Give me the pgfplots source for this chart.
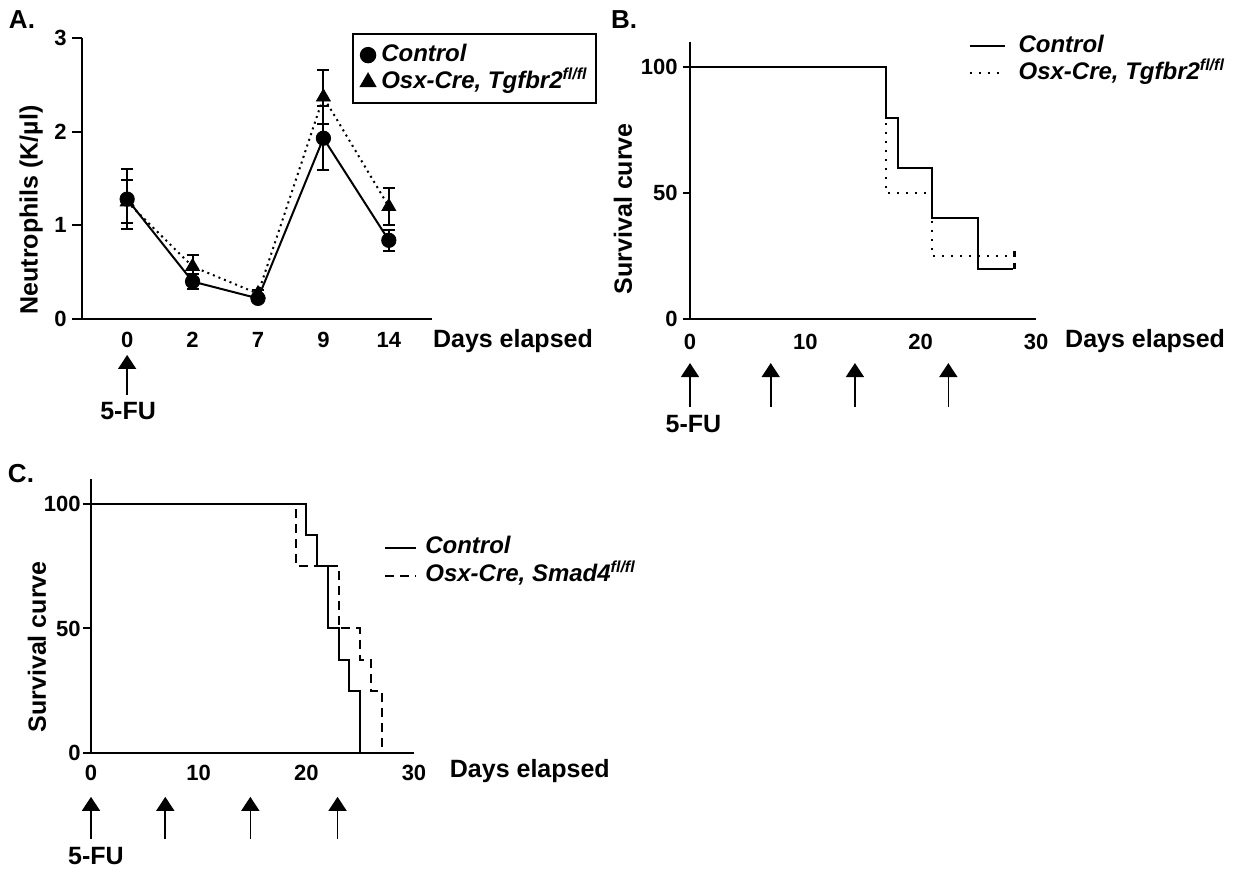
\documentclass[border=0pt]{standalone}
\usepackage{fontspec}
\setmainfont{Liberation Sans}
\usepackage{pgfplots}
\pgfplotsset{compat=1.18}
\usetikzlibrary{arrows.meta}

\newcommand\lblfont{\fontsize{12.5}{14}\selectfont\bfseries}
\newcommand\tickfont{\fontsize{11}{13}\selectfont\bfseries}
\newcommand\legfont{\fontsize{12}{14}\selectfont\bfseries\itshape}

\tikzset{fu/.style={line width=0.8pt, -{Triangle[width=9pt,length=7pt]}}}

\pgfplotsset{
  panel/.style={
    scale only axis, clip=false,
    axis x line=bottom, axis y line=left,
    axis line style={-, line width=1pt, black},
    tick align=outside,
    ytick style={line width=1pt, black},
    xtick style={draw=none},
    minor tick num=0,
    ticklabel style={font=\tickfont, inner sep=0pt},
    /pgf/number format/assume math mode=true,
    legend cell align=left,
  },
}

\begin{document}
\begin{tikzpicture}
\useasboundingbox (0,0) rectangle (619pt,436.5pt);

% ---- A: neutrophils
\begin{axis}[panel,
  at={(41pt,277pt)}, anchor=south west,
  width=175pt, height=140.5pt,
  xmin=-0.69, xmax=4.66, ymin=0, ymax=3,
  xtick={0,1,2,3,4}, xticklabels={0,2,7,9,14},
  ytick={0,1,2,3},
  major tick length=5pt,
  xticklabel style={yshift=-1.5pt},
  yticklabel style={xshift=-2.5pt},
  legend style={at={(axis cs:3.435,3.052)}, anchor=north west, draw=black,
    line width=1pt, font=\legfont, inner xsep=4pt, inner ysep=4.5pt,
    row sep=1.5pt, column sep=3pt,
    nodes={inner sep=0pt, text height=9pt, text depth=3pt}},
  legend image code/.code={\draw[#1] plot coordinates {(0pt,0pt)};},
]
\addplot[black, line width=1pt, forget plot]
  coordinates {(0,1.28) (1,0.40) (2,0.22) (3,1.93) (4,0.84)};
\addplot[black, line width=1pt, dash pattern=on 1pt off 2pt, forget plot]
  coordinates {(0,1.25) (1,0.56) (2,0.27) (3,2.37) (4,1.20)};
\addplot[black, only marks, mark=*, mark size=3.6pt,
  error bars/.cd, y dir=both, y explicit, error mark=-,
  error mark options={rotate=90, black, mark size=3pt, line width=1pt},
  error bar style={line width=1pt}]
  coordinates {(0,1.28) +- (0,0.32) (1,0.40) +- (0,0.08) (2,0.22) +- (0,0.04)
               (3,1.93) +- (0,0.34) (4,0.84) +- (0,0.11)};
\addlegendentry{Control}
\addplot[black, only marks, mark=triangle*, mark size=4pt,
  error bars/.cd, y dir=both, y explicit, error mark=-,
  error mark options={rotate=90, black, mark size=3pt, line width=1pt},
  error bar style={line width=1pt}]
  coordinates {(0,1.25) +- (0,0.23) (1,0.56) +- (0,0.12) (2,0.27) +- (0,0.04)
               (3,2.37) +- (0,0.29) (4,1.20) +- (0,0.20)};
\addlegendentry{Osx-Cre, Tgfbr2\textsuperscript{fl/fl}}
\draw[fu] (axis cs:0,-0.811) -- (axis cs:0,-0.384);
\node[font=\lblfont, anchor=base, inner sep=0pt] at (axis cs:0.015,-1.078) {5-FU};
\node[font=\lblfont, anchor=base west, inner sep=0pt] at (axis cs:4.67,-0.30) {Days elapsed};
\node[font=\lblfont, rotate=90, inner sep=0pt] at (axis cs:-1.466,1.163) {Neutrophils (K/µl)};
\end{axis}

% ---- B: survival, Tgfbr2
\begin{axis}[panel,
  at={(345pt,277pt)}, anchor=south west,
  width=173pt, height=138.5pt,
  xmin=0, xmax=30, ymin=0, ymax=110,
  xtick={0,10,20,30}, ytick={0,50,100},
  major tick length=3.5pt,
  xticklabel style={yshift=-4pt},
  yticklabel style={xshift=-2.5pt},
  legend style={at={(axis cs:23.6,114.8)}, anchor=north west, draw=none,
    fill=none, font=\legfont, row sep=1.5pt, column sep=6.5pt,
    nodes={inner sep=0pt, text height=9pt, text depth=3pt}},
  legend image code/.code={\draw[#1] (0pt,0pt) -- (17.5pt,0pt);},
]
\addplot[const plot, black, line width=1pt]
  coordinates {(0,100) (17,80) (18,60) (21,40) (25,20) (28,20)};
\addlegendentry{Control}
\addplot[const plot, black, line width=1pt, dash pattern=on 1pt off 3.5pt]
  coordinates {(0,100) (17,50) (21,25) (28,25)};
\addlegendentry{Osx-Cre, Tgfbr2\textsuperscript{fl/fl}}
\addplot[black, only marks, mark=|, mark size=1.5pt, line width=1.5pt, forget plot]
  coordinates {(28.1,21) (28.1,26)};
\draw[fu] (axis cs:0,-34.9) -- (axis cs:0,-17.5);
\draw[fu] (axis cs:7,-34.9) -- (axis cs:7,-17.5);
\draw[fu] (axis cs:14.3,-34.9) -- (axis cs:14.3,-17.5);
\draw[fu] (axis cs:22.4,-34.9) -- (axis cs:22.4,-17.5);
\node[font=\lblfont, anchor=base, inner sep=0pt] at (axis cs:0.3,-45.2) {5-FU};
\node[font=\lblfont, anchor=base west, inner sep=0pt] at (axis cs:32.5,-11.5) {Days elapsed};
\node[font=\lblfont, rotate=90, inner sep=0pt] at (axis cs:-5.81,43.8) {Survival curve};
\end{axis}

% ---- C: survival, Smad4
\begin{axis}[panel,
  at={(45.5pt,60pt)}, anchor=south west,
  width=161.5pt, height=137pt,
  xmin=0, xmax=30, ymin=0, ymax=110,
  xtick={0,10,20,30}, ytick={0,50,100},
  major tick length=4pt,
  xticklabel style={yshift=-2pt},
  yticklabel style={xshift=-1pt},
  legend style={at={(axis cs:26.65,89)}, anchor=north west, draw=none,
    fill=none, font=\legfont, row sep=2pt, column sep=4pt,
    nodes={inner sep=0pt, text height=9pt, text depth=3pt}},
  legend image code/.code={\draw[#1] (0pt,0pt) -- (15.5pt,0pt);},
]
\addplot[const plot, black, line width=1pt]
  coordinates {(0,100) (20,87.5) (21,75) (22,50) (23,37.5) (24,25) (25,0)};
\addlegendentry{Control}
\addplot[const plot, black, line width=1pt, dash pattern=on 4.5pt off 3pt]
  coordinates {(0,100) (19,75) (23,50) (25,37.5) (26,25) (27,0)};
\addlegendentry{Osx-Cre, Smad4\textsuperscript{fl/fl}}
\draw[fu] (axis cs:0,-34.4) -- (axis cs:0,-17.6);
\draw[fu] (axis cs:6.9,-34.4) -- (axis cs:6.9,-17.6);
\draw[fu] (axis cs:14.8,-34.4) -- (axis cs:14.8,-17.6);
\draw[fu] (axis cs:22.9,-34.4) -- (axis cs:22.9,-17.6);
\node[font=\lblfont, anchor=base, inner sep=0pt] at (axis cs:0.46,-44.8) {5-FU};
\node[font=\lblfont, anchor=base west, inner sep=0pt] at (axis cs:33.3,-10) {Days elapsed};
\node[font=\lblfont, rotate=90, inner sep=0pt] at (axis cs:-5.01,42.6) {Survival curve};
\end{axis}

\node[font=\fontsize{13}{15}\selectfont\bfseries] at (11pt,426.5pt) {A.};
\node[font=\fontsize{13}{15}\selectfont\bfseries] at (312pt,426.5pt) {B.};
\node[font=\fontsize{13}{15}\selectfont\bfseries] at (10.5pt,199.5pt) {C.};
\end{tikzpicture}
\end{document}
